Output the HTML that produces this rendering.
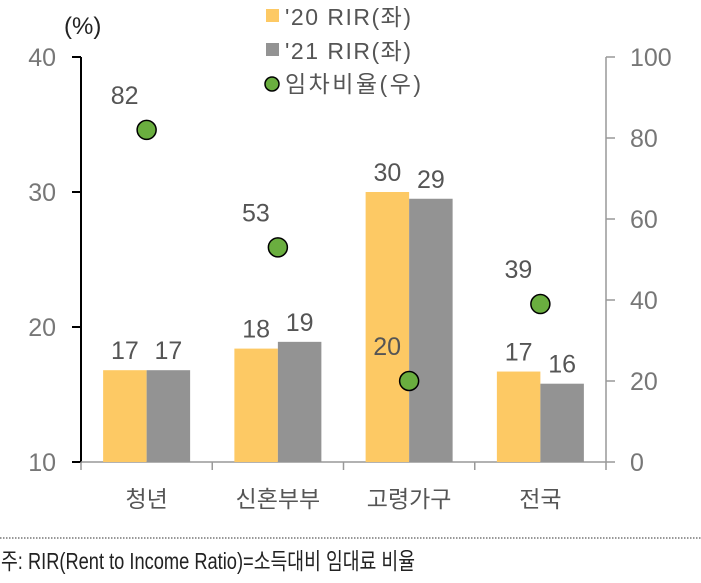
<!DOCTYPE html>
<html><head><meta charset="utf-8"><style>
body{margin:0;background:#fff;}
svg{display:block;font-family:"Liberation Sans","Noto Sans CJK KR",sans-serif;}
</style></head><body>
<svg width="701" height="583" viewBox="0 0 701 583">
<g id="axes"></g><g id="bars"></g><g id="dots"></g><g id="labels"></g>
<g>
<rect x="266" y="9" width="13" height="13" fill="#FDC964"/>
<text x="285" y="25" font-size="23" fill="#555" textLength="126">'20 RIR(좌)</text>
<rect x="266" y="43" width="13" height="13" fill="#939393"/>
<text x="285" y="59" font-size="23" fill="#555" textLength="126">'21 RIR(좌)</text>
<circle cx="272" cy="84" r="7" fill="#6AAE3F" stroke="#000" stroke-width="1.5"/>
<text x="285" y="92" font-size="23" fill="#555" textLength="136">임차비율(우)</text>
</g>
<text x="64" y="34" font-size="24" fill="#222">(%)</text>
<line x1="0" y1="538" x2="701" y2="538" stroke="#777" stroke-width="1.5" stroke-dasharray="1.5,1.5"/>
<text x="1" y="569" font-size="23" fill="#222" textLength="414" lengthAdjust="spacingAndGlyphs">주: RIR(Rent to Income Ratio)=소득대비 임대료 비율</text>
</svg>
<script>
const categories=["청년","신혼부부","고령가구","전국"];
const rir2020=[16.8,18.4,30.0,16.7];
const rir2021=[16.8,18.9,29.5,15.8];
const rentRatio=[82,53,20,39];
const label2020=["17","18","30","17"];
const label2021=["17","19","29","16"];
const leftTicks=[10,20,30,40];
const rightTicks=[0,20,40,60,80,100];
const NS="http://www.w3.org/2000/svg";
const X0=81,X1=606,YB=462,YT=57,CW=(X1-X0)/categories.length;
const yL=v=>YB-(v-10)/30*(YB-YT);
const yR=v=>YB-v/100*(YB-YT);
function mk(p,t,a){const e=document.createElementNS(NS,t);for(const k in a)e.setAttribute(k,a[k]);document.getElementById(p).appendChild(e);return e;}
let e;
e=mk("axes","line",{x1:X0,y1:YT,x2:X0,y2:YB+1,stroke:"#000","stroke-width":2});


e=mk("axes","line",{x1:X1,y1:YT,x2:X1,y2:YB,stroke:"#999","stroke-width":1.5});


e=mk("axes","line",{x1:X0,y1:YB,x2:X1,y2:YB,stroke:"#999","stroke-width":1.5});


leftTicks.forEach(v=>{
 e=mk("axes","line",{x1:X0-9,y1:yL(v),x2:X0,y2:yL(v),stroke:"#000","stroke-width":2});
 
 
 e=mk("axes","text",{x:X0-25,y:yL(v)+9,"text-anchor":"end","font-size":25,fill:"#777"});e.textContent=v;
 
 
});
rightTicks.forEach(v=>{
 e=mk("axes","line",{x1:X1,y1:yR(v),x2:X1+9,y2:yR(v),stroke:"#999","stroke-width":1.5});
 
 
 e=mk("axes","text",{x:X1+24,y:yR(v)+9,"font-size":25,fill:"#777"});e.textContent=v;
 
 
});
for(let i=0;i<=categories.length;i++){
 e=mk("axes","line",{x1:X0+i*CW,y1:YB,x2:X0+i*CW,y2:YB+8,stroke:"#999","stroke-width":1.5});
 
 
}
categories.forEach((c,i)=>{
 const cx=X0+CW*(i+0.5),bw=43.5;
 e=mk("bars","rect",{x:cx-bw,y:yL(rir2020[i]),width:bw,height:YB-yL(rir2020[i]),fill:"#FDC964"});
 
 
 e=mk("bars","rect",{x:cx,y:yL(rir2021[i]),width:bw,height:YB-yL(rir2021[i]),fill:"#939393"});
 
 
 e=mk("labels","text",{x:cx-bw/2,y:yL(rir2020[i])-11,"text-anchor":"middle","font-size":25,fill:"#555"});e.textContent=label2020[i];
 
 
 e=mk("labels","text",{x:cx+bw/2,y:yL(rir2021[i])-11,"text-anchor":"middle","font-size":25,fill:"#555"});e.textContent=label2021[i];
 
 
 e=mk("dots","circle",{cx:cx,cy:yR(rentRatio[i]),r:9.5,fill:"#6AAE3F",stroke:"#000","stroke-width":1.5});
 
 
 e=mk("labels","text",{x:cx-22,y:yR(rentRatio[i])-26,"text-anchor":"middle","font-size":25,fill:"#555"});e.textContent=rentRatio[i];
 
 
 e=mk("labels","text",{x:cx,y:507,"text-anchor":"middle","font-size":23,fill:"#555"});e.textContent=c;
 
 
});
</script>
</body></html>
